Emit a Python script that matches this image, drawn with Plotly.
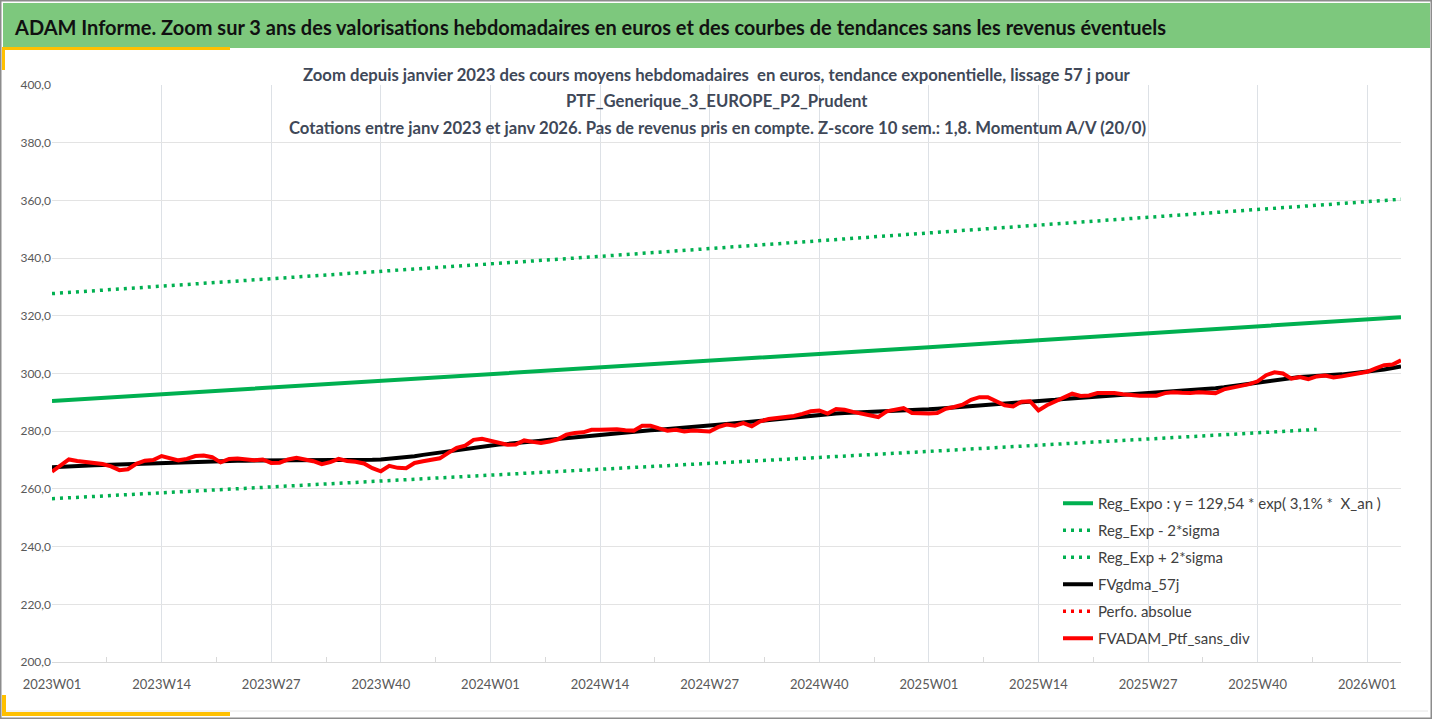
import plotly.graph_objects as go

# --- donnees ---
weeks = [f"{y}W{w:02d}" for y in (2023, 2024, 2025) for w in range(1, 53)] + [f"2026W{w:02d}" for w in range(1, 6)]

tick_weeks = ["2023W01", "2023W14", "2023W27", "2023W40", "2024W01", "2024W14", "2024W27",
              "2024W40", "2025W01", "2025W14", "2025W27", "2025W40", "2026W01"]

trend_weeks = tick_weeks + ["2026W05"]
reg_expo = [290.5, 292.8, 295.0, 297.3, 299.6, 302.0, 304.3, 306.7, 309.1, 311.5, 313.9, 316.3, 318.8, 319.5]
reg_plus = [327.7, 330.2, 332.8, 335.4, 338.0, 340.6, 343.3, 346.0, 348.7, 351.4, 354.1, 356.9, 359.6, 360.4]

low_weeks = tick_weeks[:-1] + ["2025W47"]
reg_minus = [256.6, 258.6, 260.6, 262.6, 264.6, 266.7, 268.8, 270.9, 273.0, 275.1, 277.3, 279.4, 280.6]

fvgdma = [
    267.5, 267.7, 267.8, 267.9, 268.0, 268.2, 268.3, 268.4, 268.5, 268.6,
    268.8, 268.9, 269.0, 269.2, 269.3, 269.4, 269.5, 269.6, 269.7, 269.7,
    269.8, 269.8, 269.8, 269.8, 269.8, 269.8, 269.8, 269.8, 269.9, 269.9,
    269.9, 269.9, 270.0, 270.0, 270.0, 270.0, 270.1, 270.1, 270.1, 270.2,
    270.4, 270.6, 270.9, 271.3, 271.8, 272.2, 272.7, 273.2, 273.7, 274.1,
    274.5, 274.8, 275.1, 275.4, 275.6, 275.8, 276.1, 276.4, 276.7, 277.0,
    277.3, 277.6, 277.9, 278.2, 278.5, 278.8, 279.1, 279.4, 279.7, 279.9,
    280.1, 280.3, 280.5, 280.7, 280.9, 281.1, 281.4, 281.6, 281.9, 282.2,
    282.5, 282.8, 283.1, 283.4, 283.7, 284.0, 284.3, 284.6, 284.9, 285.2,
    285.5, 285.7, 285.9, 286.1, 286.3, 286.4, 286.5, 286.6, 286.7, 286.8,
    287.0, 287.1, 287.2, 287.4, 287.6, 287.8, 288.0, 288.2, 288.5, 288.8,
    289.1, 289.3, 289.5, 289.7, 289.9, 290.1, 290.3, 290.5, 290.7, 290.9,
    291.2, 291.4, 291.6, 291.8, 292.0, 292.2, 292.3, 292.5, 292.7, 292.8,
    293.0, 293.2, 293.4, 293.6, 293.8, 294.0, 294.3, 294.6, 294.9, 295.2,
    295.6, 296.0, 296.4, 296.9, 297.4, 297.9, 298.3, 298.6, 298.8, 299.0,
    299.1, 299.3, 299.5, 299.7, 300.0, 300.3, 300.6, 301.0, 301.4, 301.9,
    302.4,
]

ptf_sans_div = [
    266.0, 268.2, 270.2, 269.7, 269.4, 269.1, 268.6, 267.8, 266.5, 266.8,
    268.7, 269.8, 270.0, 271.4, 270.6, 269.9, 270.4, 271.4, 271.6, 271.0,
    269.2, 270.4, 270.5, 270.3, 269.9, 270.2, 269.0, 269.1, 270.2, 270.8,
    270.2, 269.6, 268.6, 269.3, 270.4, 269.7, 269.4, 268.8, 267.2, 266.1,
    268.0, 267.3, 267.2, 269.0, 269.6, 270.1, 270.6, 272.5, 274.2, 275.0,
    277.0, 277.4, 276.7, 275.8, 275.3, 275.4, 276.8, 276.3, 275.9, 276.4,
    277.2, 278.8, 279.4, 279.6, 280.5, 280.5, 280.6, 280.7, 280.3, 280.2,
    281.9, 281.9, 281.0, 280.2, 280.5, 279.9, 280.2, 280.0, 279.9, 281.4,
    282.3, 281.9, 282.8, 281.7, 283.4, 284.2, 284.5, 284.7, 285.3, 286.0,
    286.9, 287.2, 286.1, 287.7, 287.4, 286.7, 286.1, 285.3, 284.9, 286.9,
    287.6, 288.0, 286.3, 286.1, 286.1, 286.3, 287.8, 288.4, 289.2, 290.9,
    291.8, 291.8, 290.5, 289.0, 288.6, 290.2, 290.4, 287.2, 289.0, 290.4,
    291.8, 293.0, 292.2, 292.4, 293.2, 293.2, 293.2, 292.8, 292.4, 292.3,
    292.3, 292.3, 293.2, 293.5, 293.3, 293.2, 293.5, 293.4, 293.2, 294.5,
    295.1, 295.4, 296.3, 297.3, 299.4, 300.4, 300.0, 298.2, 298.8, 298.0,
    299.0, 299.3, 298.6, 299.0, 299.6, 300.2, 300.6, 301.8, 302.9, 303.1,
    304.6,
]

header = "ADAM Informe. Zoom sur 3 ans des valorisations hebdomadaires en euros et des courbes de tendances sans les revenus éventuels"
title_lines = [
    "Zoom depuis janvier 2023 des cours moyens hebdomadaires  en euros, tendance exponentielle, lissage 57 j pour",
    "PTF_Generique_3_EUROPE_P2_Prudent",
    "Cotations entre janv 2023 et janv 2026. Pas de revenus pris en compte. Z-score 10 sem.: 1,8. Momentum A/V (20/0)",
]

# --- mise en page (pixels) ---
W, H = 1432, 719
L, R, T, B = 52, 31, 85, 57
pw, ph = W - L - R, H - T - B


def px(x):
    return (x - L) / pw


def py(y):
    return (H - B - y) / ph


GREEN = "#00B050"
FONT = "Lato"

fig = go.Figure()
fig.add_trace(go.Scatter(x=trend_weeks, y=reg_expo, mode="lines", name="Reg_Expo : y = 129,54 * exp( 3,1% *  X_an )",
                         line=dict(color=GREEN, width=4), legendgroup="a"))
fig.add_trace(go.Scatter(x=low_weeks, y=reg_minus, mode="lines", name="Reg_Exp - 2*sigma",
                         line=dict(color=GREEN, width=3.5, dash="3px,5px"), legendgroup="b"))
fig.add_trace(go.Scatter(x=trend_weeks, y=reg_plus, mode="lines", name="Reg_Exp + 2*sigma",
                         line=dict(color=GREEN, width=3.5, dash="3px,5px"), legendgroup="c"))
fig.add_trace(go.Scatter(x=weeks, y=fvgdma, mode="lines", name="FVgdma_57j",
                         line=dict(color="black", width=4), legendgroup="d"))
fig.add_trace(go.Scatter(x=[weeks[0]], y=[None], mode="lines", name="Perfo. absolue",
                         line=dict(color="#FF0000", width=3.5, dash="3px,5px"), legendgroup="e"))
fig.add_trace(go.Scatter(x=weeks, y=ptf_sans_div, mode="lines", name="FVADAM_Ptf_sans_div",
                         line=dict(color="#FF0000", width=4), legendgroup="f"))


def box(x0, x1, y0, y1, **kw):
    return dict(type="rect", xref="paper", yref="paper", x0=px(x0), x1=px(x1), y0=py(y1), y1=py(y0), **kw)


shapes = [
    box(3, 1430, 3, 48, fillcolor="#7DC87D", line=dict(width=0), layer="below"),
    box(2, 230, 47, 50, fillcolor="#FFC000", line=dict(width=0)),
    box(2, 5, 47, 70, fillcolor="#FFC000", line=dict(width=0)),
    box(2, 230, 712, 716, fillcolor="#FFC000", line=dict(width=0)),
    box(2, 6, 695, 716, fillcolor="#FFC000", line=dict(width=0)),
    dict(type="line", xref="paper", yref="paper", x0=px(6), x1=px(1428), y0=py(711), y1=py(711),
         line=dict(color="#E6E6E6", width=1)),
    box(0.75, 1431.25, 0.75, 718.25, line=dict(color="#8C8C8C", width=1.5)),
]

annotations = [
    dict(text="<b>" + header + "</b>", x=px(12), y=py(27), xref="paper", yref="paper", xanchor="left", yanchor="middle",
         showarrow=False, font=dict(family=FONT, size=20, color="#111111")),
]
for k, t in enumerate(title_lines):
    annotations.append(dict(text="<b>" + t + "</b>", x=px(717), y=py(75 + 26.5 * k), xref="paper", yref="paper",
                            xanchor="center", yanchor="middle", showarrow=False,
                            font=dict(family=FONT, size=16.7, color="#404858")))

fig.update_layout(
    width=W, height=H,
    margin=dict(l=L, r=R, t=T, b=B),
    paper_bgcolor="white", plot_bgcolor="white",
    separators=", ",
    font=dict(family=FONT, size=12, color="#595959"),
    shapes=shapes, annotations=annotations,
    showlegend=True,
    legend=dict(x=px(1058), y=py(487), xanchor="left", yanchor="top", bgcolor="rgba(0,0,0,0)",
                font=dict(family=FONT, size=15, color="#404040"), tracegroupgap=4.5, traceorder="grouped"),
)

fig.update_xaxes(type="category", categoryorder="array", categoryarray=weeks, range=[0, len(weeks) - 1],
                 tickmode="array", tickvals=tick_weeks, ticktext=tick_weeks, ticklabelstandoff=10,
                 showgrid=True, gridcolor="#DDE1E6", gridwidth=1,
                 showline=True, linecolor="#D9D9D9", linewidth=1, ticks="", tickfont=dict(size=13, color="#595959"),
                 minor=dict(tickvals=[6.5 + 13 * k for k in range(12)], ticks="inside", ticklen=5,
                            tickcolor="#D9D9D9", showgrid=False))
fig.update_yaxes(range=[200, 400], dtick=20, tickformat=".1f", showgrid=True, gridcolor="#E3E3E3", gridwidth=1,
                 zeroline=False, showline=False, ticks="", tickfont=dict(size=12, color="#595959"))

fig.write_html("out.html", config={"displayModeBar": False},
               post_script="document.body.style.margin='0px';")
